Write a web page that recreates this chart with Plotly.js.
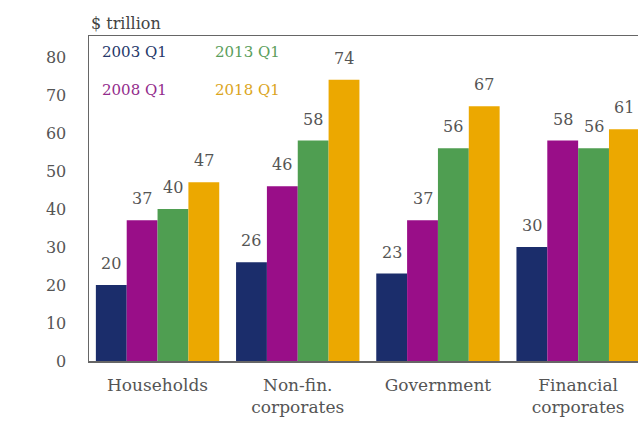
<!DOCTYPE html>
<html>
<head>
<meta charset="utf-8">
<script src="https://cdn.plot.ly/plotly-3.0.1.min.js"></script>
<style>html,body{margin:0;padding:0;background:#fff;}#chart{width:638px;height:425px;}</style>
</head>
<body>
<div id="chart"></div>
<script>
var categories = ["Households", "Non-fin.<br>corporates", "Government", "Financial<br>corporates"];
var seriesNames = ["2003 Q1", "2008 Q1", "2013 Q1", "2018 Q1"];
var q2003 = [20, 26, 23, 30];
var q2008 = [37, 46, 37, 58];
var q2013 = [40, 58, 56, 56];
var q2018 = [47, 74, 67, 61];
var yTicks = [0, 10, 20, 30, 40, 50, 60, 70, 80];
var unitLabel = "$ trillion";

var seriesValues = [q2003, q2008, q2013, q2018];
var barColors = ["#1b2d6b", "#990e88", "#4f9e51", "#eca800"];
var legendColors = ["#26386a", "#932c8c", "#5b9e5b", "#dba51c"];
var FONT = "DejaVu Serif, Georgia, serif";
var bargap = 0.12;

var traces = seriesValues.map(function (vals, i) {
  return {
    type: "bar",
    name: seriesNames[i],
    x: categories,
    y: vals,
    marker: { color: barColors[i], line: { width: 0 } },
    hoverinfo: "skip"
  };
});

var annotations = [];
var w = (1 - bargap) / seriesValues.length;
seriesValues.forEach(function (vals, i) {
  vals.forEach(function (v, j) {
    annotations.push({
      xref: "x", yref: "y",
      x: j + (i - (seriesValues.length - 1) / 2) * w,
      y: v,
      text: String(v),
      showarrow: false,
      yanchor: "bottom",
      yshift: 10,
      font: { family: FONT, size: 16, color: "#555" }
    });
  });
});

// legend as coloured text
var legendPos = [[0.02, 0.95], [0.02, 0.835], [0.225, 0.95], [0.225, 0.835]];
seriesNames.forEach(function (n, i) {
  annotations.push({
    xref: "paper", yref: "paper",
    x: legendPos[i][0], y: legendPos[i][1],
    xanchor: "left", yanchor: "middle",
    text: n, showarrow: false,
    font: { family: FONT, size: 15, color: legendColors[i] }
  });
});

annotations.push({
  xref: "paper", yref: "paper", x: 0, y: 1,
  xanchor: "left", yanchor: "bottom", yshift: 1,
  text: unitLabel, showarrow: false,
  font: { family: FONT, size: 16, color: "#444" }
});

var layout = {
  width: 638, height: 425,
  margin: { l: 89, r: 0, t: 36, b: 64 },
  paper_bgcolor: "#fff", plot_bgcolor: "#fff",
  barmode: "group",
  bargap: bargap, bargroupgap: 0,
  showlegend: false,
  xaxis: {
    type: "category",
    range: [-0.489, 3.427],
    showline: true, mirror: true, linecolor: "#666", linewidth: 1.5,
    showgrid: false, zeroline: false, ticks: "",
    ticklabelstandoff: 8,
    tickfont: { family: FONT, size: 17, color: "#555" },
    fixedrange: true
  },
  yaxis: {
    range: [0, 85.5],
    tickvals: yTicks,
    showline: true, linecolor: "#666", linewidth: 1.5,
    showgrid: false, zeroline: false, ticks: "",
    ticklabelstandoff: 18,
    tickfont: { family: FONT, size: 16, color: "#555" },
    fixedrange: true
  },
  annotations: annotations
};

Plotly.newPlot("chart", traces, layout, { displayModeBar: false, staticPlot: true });
</script>
</body>
</html>
